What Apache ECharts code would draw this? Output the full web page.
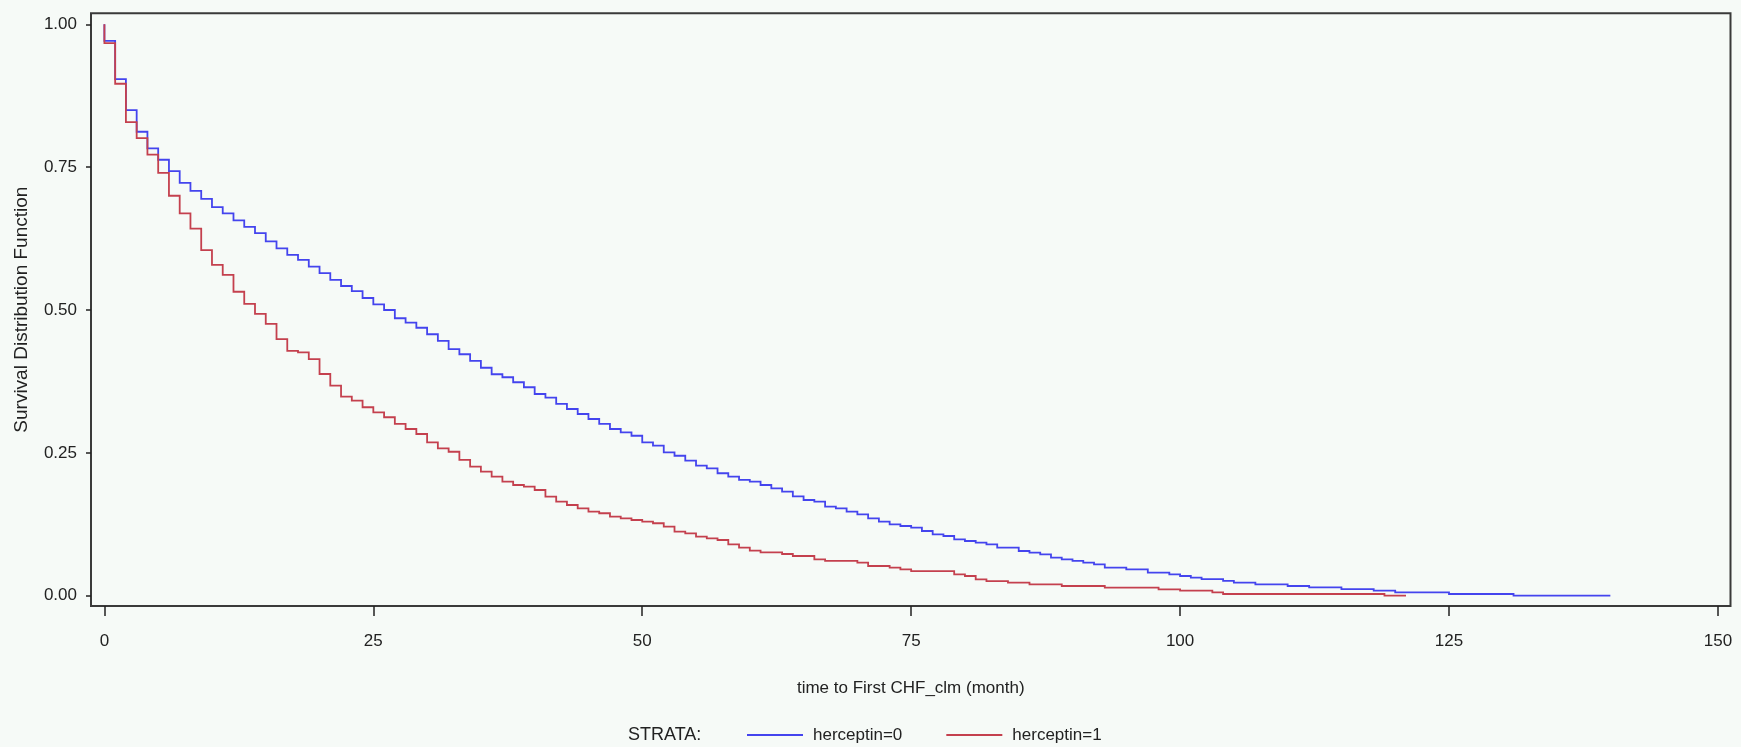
<!DOCTYPE html>
<html>
<head>
<meta charset="utf-8">
<script src="https://cdn.jsdelivr.net/npm/echarts@6/dist/echarts.min.js"></script>
<style>
html,body{margin:0;padding:0;background:#F6FAF7;}
#chart{width:1741px;height:747px;}
</style>
</head>
<body>
<div id="chart"></div>
<script>
// herceptin=0 : step times (months) and survival values
const blueTimes = [0,0,1,2,3,4,5,6,7,8,9,10,11,12,13,14,15,16,17,18,19,20,21,22,23,24,25,26,27,28,29,30,31,32,33,34,35,36,37,38,39,40,41,42,43,44,45,46,47,48,49,50,51,52,53,54,55,56,57,58,59,60,61,62,63,64,65,66,67,68,69,70,71,72,73,74,75,76,77,78,79,80,81,82,83,85,86,87,88,89,90,91,92,93,95,97,99,100,101,102,104,105,107,110,112,115,118,120,125,131,140];
const blueSurv  = [1.0,0.971,0.904,0.850,0.812,0.783,0.763,0.743,0.7225,0.7085,0.6945,0.680,0.669,0.657,0.6455,0.6345,0.620,0.608,0.5965,0.5877,0.576,0.5644,0.5527,0.542,0.533,0.521,0.510,0.500,0.4856,0.478,0.469,0.4576,0.446,0.4314,0.4226,0.411,0.399,0.3876,0.3823,0.3736,0.3648,0.353,0.3467,0.3356,0.3268,0.318,0.3093,0.3006,0.2918,0.286,0.280,0.2685,0.2626,0.251,0.245,0.2363,0.2276,0.223,0.2143,0.2083,0.2026,0.1996,0.1938,0.188,0.182,0.174,0.1675,0.1646,0.1558,0.153,0.147,0.1425,0.1355,0.1296,0.125,0.122,0.119,0.1133,0.1075,0.1045,0.0987,0.0958,0.0928,0.090,0.084,0.0783,0.0753,0.0725,0.0665,0.0637,0.0608,0.0578,0.055,0.049,0.0462,0.0403,0.0375,0.0345,0.0315,0.029,0.026,0.023,0.020,0.017,0.0145,0.0115,0.0088,0.006,0.003,0.0,0.0];
// herceptin=1
const redTimes = [0,0,1,2,3,4,5,6,7,8,9,10,11,12,13,14,15,16,17,18,19,20,21,22,23,24,25,26,27,28,29,30,31,32,33,34,35,36,37,38,39,40,41,42,43,44,45,46,47,48,49,50,51,52,53,54,55,56,57,58,59,60,61,63,64,66,67,70,71,73,74,75,79,80,81,82,84,86,89,93,98,100,103,104,119,121];
const redSurv  = [1.0,0.967,0.896,0.829,0.801,0.772,0.740,0.700,0.669,0.6425,0.605,0.579,0.5615,0.532,0.5107,0.4932,0.4757,0.4489,0.4284,0.426,0.4139,0.388,0.3677,0.3484,0.3414,0.3298,0.321,0.3123,0.3006,0.2918,0.283,0.2685,0.258,0.252,0.2376,0.2258,0.217,0.2083,0.1996,0.1938,0.1908,0.185,0.1733,0.1646,0.1588,0.153,0.147,0.1443,0.1383,0.1355,0.1325,0.1296,0.1268,0.1208,0.112,0.1092,0.1033,0.1005,0.0975,0.090,0.084,0.0788,0.076,0.073,0.0695,0.0637,0.0608,0.0578,0.052,0.049,0.0462,0.0432,0.0375,0.0345,0.0287,0.0257,0.0228,0.020,0.017,0.014,0.0112,0.0088,0.006,0.003,0.0,0.0];

const xTicks = [0,25,50,75,100,125,150];
const yTicks = [0,0.25,0.5,0.75,1.0];
const seriesNames = ['herceptin=0','herceptin=1'];
const seriesColors = ['#4444EE','#C4404E'];

// Kaplan-Meier step path: value holds until the next event time
function stepCoords(ts, vs) {
  const out = [];
  for (let i = 0; i < ts.length; i++) {
    out.push([ts[i], vs[i]]);
    if (i + 1 < ts.length) out.push([ts[i + 1], vs[i]]);
  }
  return out;
}
const FONT = '"Liberation Sans", Arial, sans-serif';

const chart = echarts.init(document.getElementById('chart'), null, {renderer: 'canvas'});
chart.setOption({
  animation: false,
  backgroundColor: '#F6FAF7',
  grid: {
    left: 91, right: 10.5, top: 13.3, bottom: 141,
    show: true, borderColor: '#3a3a3a', borderWidth: 2, backgroundColor: '#F6FAF7'
  },
  xAxis: {
    type: 'value', min: -1.246, max: 151.17,
    splitLine: {show: false},
    axisLine: {show: false, onZero: false},
    axisTick: {show: true, inside: false, length: 10, customValues: xTicks, lineStyle: {color: '#222', width: 1.5}},
    axisLabel: {customValues: xTicks, margin: 27, color: '#222', fontSize: 17, fontFamily: FONT},
    name: 'time to First CHF_clm (month)', nameLocation: 'middle', nameGap: 74,
    nameTextStyle: {color: '#222', fontSize: 17, fontFamily: FONT}
  },
  yAxis: {
    type: 'value', min: -0.018, max: 1.0193,
    splitLine: {show: false},
    axisLine: {show: false, onZero: false},
    axisTick: {show: true, inside: false, length: 5, customValues: yTicks, lineStyle: {color: '#222', width: 1.5}},
    axisLabel: {customValues: yTicks, margin: 14, color: '#222', fontSize: 17, fontFamily: FONT,
      formatter: v => Number(v).toFixed(2)},
    name: 'Survival Distribution Function', nameLocation: 'middle', nameGap: 60, nameRotate: 90,
    nameTextStyle: {color: '#222', fontSize: 19, fontFamily: FONT}
  },
  legend: {
    left: 747, top: 725, padding: 0, itemWidth: 56, itemHeight: 2, itemGap: 44, icon: 'rect',
    itemStyle: {borderWidth: 0},
    lineStyle: {width: 0},
    textStyle: {color: '#222', fontSize: 17, fontFamily: FONT, padding: [0, 0, 0, 5], lineHeight: 20},
    data: seriesNames
  },
  graphic: [{
    type: 'text', left: 628, top: 726,
    style: {text: 'STRATA:', fill: '#222', font: '18px ' + FONT}
  }],
  series: [
    {name: seriesNames[0], type: 'lines', coordinateSystem: 'cartesian2d', polyline: true,
     data: [{coords: stepCoords(blueTimes, blueSurv)}],
     lineStyle: {color: seriesColors[0], width: 1.8, opacity: 1}, z: 2},
    {name: seriesNames[1], type: 'lines', coordinateSystem: 'cartesian2d', polyline: true,
     data: [{coords: stepCoords(redTimes, redSurv)}],
     lineStyle: {color: seriesColors[1], width: 1.8, opacity: 1}, z: 3}
  ]
});
</script>
</body>
</html>
